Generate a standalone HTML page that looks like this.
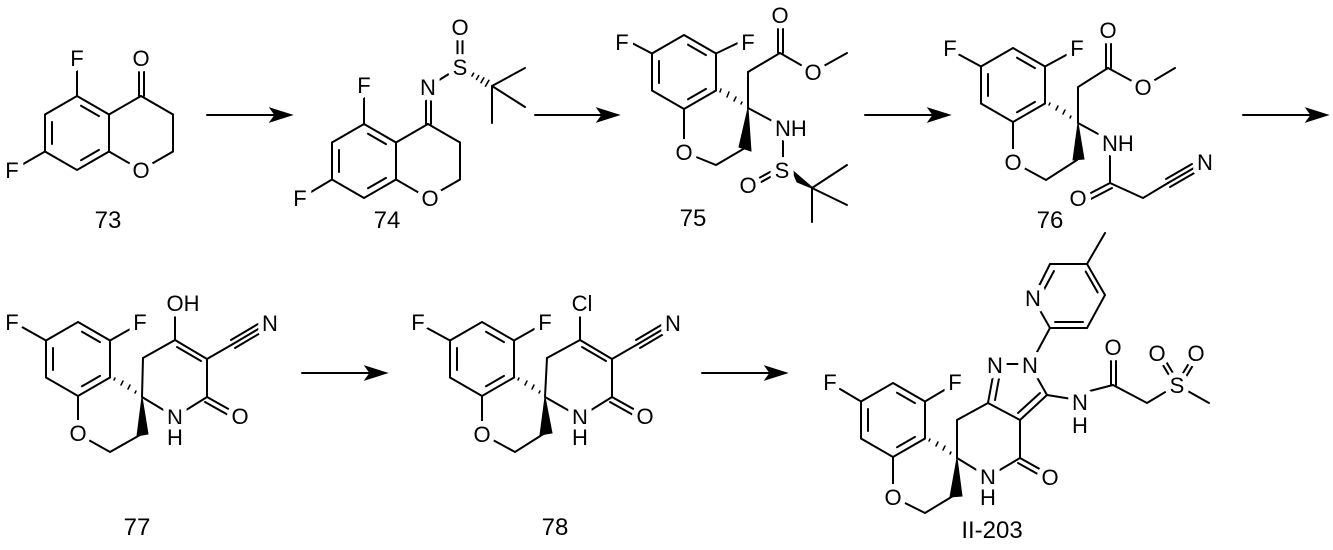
<!DOCTYPE html>
<html><head><meta charset="utf-8"><style>
html,body{margin:0;padding:0;background:#fff;}
svg{display:block;}
line,polyline,polygon.r{stroke:#000;stroke-width:2;fill:none;stroke-linecap:round;}
polygon.w{fill:#000;stroke:#000;stroke-width:1;}
text{font-family:"Liberation Sans",sans-serif;font-size:22px;fill:#000;text-anchor:middle;stroke:#fff;stroke-width:11px;paint-order:stroke;stroke-linejoin:round;}
text.l{font-size:24px;stroke:none;}
text.s{text-anchor:start;}
</style></head><body>
<svg width="1333" height="550" viewBox="0 0 1333 550" xmlns="http://www.w3.org/2000/svg">
<defs>
<g id="ph">
<polygon class="r" points="0,-37 32,-18.5 32,18.5 0,37 -32,18.5 -32,-18.5"/>
<line x1="-25" y1="-11" x2="-25" y2="11"/>
<line x1="4" y1="-27.3" x2="22" y2="-16.9"/>
<line x1="22" y1="16.9" x2="4" y2="27.3"/>
</g>
</defs>

<!-- ===== 73 ===== -->
<use href="#ph" x="77" y="133"/>
<line x1="77" y1="96" x2="77" y2="62"/>
<line x1="45" y1="151.5" x2="18" y2="167"/>
<line x1="109" y1="114.5" x2="141" y2="96"/>
<line x1="139" y1="96" x2="139" y2="64"/><line x1="144" y1="96" x2="144" y2="64"/>
<polyline points="141,96 173,114.5 173,151.5 141,170 109,151.5"/>
<text x="77" y="66">F</text>
<text x="12" y="178">F</text>
<text x="141" y="66">O</text>
<text x="141" y="178">O</text>
<text class="l" x="108" y="228">73</text>

<line x1="207" y1="115" x2="278" y2="115"/>
<polygon class="w" points="292,115 270,108 275,115 270,122"/>

<!-- ===== 74 ===== -->
<use href="#ph" x="364" y="161"/>
<line x1="364" y1="124" x2="364" y2="92"/>
<line x1="332" y1="179.5" x2="306" y2="195"/>
<line x1="396" y1="142.5" x2="428" y2="124"/>
<line x1="426" y1="124" x2="426" y2="92"/><line x1="431" y1="124" x2="431" y2="92"/>
<polyline points="428,124 460,142.5 460,179.5 428,198 396,179.5"/>
<line x1="428" y1="87" x2="460" y2="67"/>
<line x1="457.5" y1="67" x2="457.5" y2="32"/><line x1="462.5" y1="67" x2="462.5" y2="32"/>
<line x1="472" y1="76" x2="473.6" y2="73.2" style="stroke-width:1.6"/>
<line x1="476.5" y1="79.4" x2="478.7" y2="75.6" style="stroke-width:1.6"/>
<line x1="481" y1="82.7" x2="483.8" y2="77.9" style="stroke-width:1.6"/>
<line x1="485.5" y1="86.1" x2="488.9" y2="80.3" style="stroke-width:1.6"/>
<line x1="492" y1="86" x2="525" y2="68"/>
<line x1="492" y1="86" x2="525" y2="107"/>
<line x1="492" y1="86" x2="492" y2="123"/>
<text x="364" y="93">F</text>
<text x="300" y="206">F</text>
<text x="428" y="95">N</text>
<text x="460" y="75">S</text>
<text x="460" y="35">O</text>
<text x="430" y="206">O</text>
<text class="l" x="387" y="228">74</text>

<line x1="535" y1="115" x2="606" y2="115"/>
<polygon class="w" points="619,115 597,108 602,115 597,122"/>

<!-- ===== 75 ===== -->
<use href="#ph" x="684" y="72"/>
<line x1="652" y1="53.5" x2="628" y2="41"/>
<line x1="716" y1="53.5" x2="742" y2="41"/>
<line x1="684" y1="109" x2="684" y2="150"/>
<polyline points="684,152 716,165 745,148"/>
<polygon class="w" points="748,108 739,147 751,151"/>
<line x1="720" y1="92" x2="721" y2="89" style="stroke-width:1.5"/>
<line x1="727" y1="97" x2="729" y2="92" style="stroke-width:1.5"/>
<line x1="734" y1="101" x2="736" y2="97" style="stroke-width:1.5"/>
<line x1="741" y1="104" x2="742" y2="102" style="stroke-width:1.5"/>
<polyline points="748,108 748,72 780,53"/>
<line x1="778" y1="53" x2="778" y2="20"/><line x1="783" y1="53" x2="783" y2="20"/>
<polyline points="780,53 813,72 847,53"/>
<line x1="748" y1="108" x2="778" y2="124"/>
<line x1="783" y1="138" x2="783" y2="162"/>
<line x1="770" y1="172" x2="752" y2="182"/><line x1="772" y1="176" x2="754" y2="186"/>
<polygon class="w" points="792,170 797,182 814,189"/>
<line x1="812" y1="188" x2="847" y2="165"/>
<line x1="812" y1="188" x2="847" y2="205"/>
<line x1="812" y1="188" x2="812" y2="222"/>
<text x="622" y="50">F</text>
<text x="748" y="50">F</text>
<text x="684" y="160">O</text>
<text x="780" y="23">O</text>
<text x="813" y="80">O</text>
<text class="s" x="775" y="136">NH</text>
<text x="782" y="178">S</text>
<text x="748" y="193">O</text>
<text class="l" x="693" y="226">75</text>

<line x1="865" y1="115" x2="937" y2="115"/>
<polygon class="w" points="950,115 928,108 933,115 928,122"/>

<!-- ===== 76 ===== -->
<use href="#ph" x="1013" y="85"/>
<line x1="981" y1="66.5" x2="958" y2="54"/>
<line x1="1045" y1="66.5" x2="1068" y2="54"/>
<line x1="1013" y1="122" x2="1013" y2="160"/>
<polyline points="1013,162 1046,180 1077,160"/>
<polygon class="w" points="1078,123 1073,160 1084,159"/>
<line x1="1049" y1="105" x2="1050" y2="103" style="stroke-width:1.5"/>
<line x1="1056" y1="110" x2="1058" y2="106" style="stroke-width:1.5"/>
<line x1="1063" y1="114" x2="1065" y2="110" style="stroke-width:1.5"/>
<line x1="1070" y1="118" x2="1071" y2="116" style="stroke-width:1.5"/>
<polyline points="1078,123 1078,87 1108,68"/>
<line x1="1106" y1="68" x2="1106" y2="36"/><line x1="1111" y1="68" x2="1111" y2="36"/>
<polyline points="1108,68 1143,87 1175,68"/>
<line x1="1078" y1="123" x2="1100" y2="135"/>
<line x1="1110" y1="155" x2="1110" y2="183"/>
<line x1="1110" y1="183" x2="1085" y2="196"/><line x1="1112" y1="188" x2="1087" y2="201"/>
<polyline points="1110,183 1143,198 1168,183"/>
<line x1="1168" y1="183" x2="1194" y2="168"/>
<line x1="1166" y1="179" x2="1192" y2="164"/>
<line x1="1170" y1="187" x2="1196" y2="172"/>
<text x="950" y="56">F</text>
<text x="1077" y="56">F</text>
<text x="1013" y="170">O</text>
<text x="1108" y="38">O</text>
<text x="1143" y="95">O</text>
<text class="s" x="1102" y="151">NH</text>
<text x="1078" y="206">O</text>
<text x="1205" y="170">N</text>
<text class="l" x="1050" y="228">76</text>

<line x1="1243" y1="115" x2="1315" y2="115"/>
<polygon class="w" points="1328,115 1306,108 1311,115 1306,122"/>

<!-- ===== 77 ===== -->
<use href="#ph" x="78" y="359"/>
<line x1="46" y1="340.5" x2="22" y2="327"/>
<line x1="110" y1="340.5" x2="132" y2="328"/>
<line x1="78" y1="396" x2="78" y2="432"/>
<polyline points="78,434 110,452 140,435"/>
<polygon class="w" points="142,397 137,436 148,434"/>
<line x1="114" y1="380" x2="115" y2="378" style="stroke-width:1.5"/>
<line x1="121" y1="385" x2="123" y2="381" style="stroke-width:1.5"/>
<line x1="128" y1="389" x2="130" y2="385" style="stroke-width:1.5"/>
<line x1="135" y1="393" x2="136" y2="391" style="stroke-width:1.5"/>
<polyline points="142,397 143,358 175,340"/>
<line x1="175" y1="340" x2="175" y2="312"/>
<line x1="175" y1="340" x2="207" y2="359"/>
<line x1="177" y1="347" x2="201" y2="361"/>
<line x1="207" y1="359" x2="233" y2="344"/>
<line x1="233" y1="344" x2="260" y2="328"/>
<line x1="231" y1="340" x2="258" y2="324"/>
<line x1="235" y1="348" x2="262" y2="332"/>
<line x1="207" y1="359" x2="207" y2="397"/>
<line x1="207" y1="397" x2="232" y2="411"/><line x1="205" y1="402" x2="230" y2="416"/>
<polyline points="207,397 175,417 142,397"/>
<text x="12" y="330">F</text>
<text x="140" y="330">F</text>
<text x="78" y="441">O</text>
<text x="183" y="311">OH</text>
<text x="270" y="331">N</text>
<text x="240" y="424">O</text>
<text x="175" y="425">N</text>
<text x="175" y="445">H</text>
<text class="l" x="137" y="535">77</text>

<line x1="302" y1="373" x2="374" y2="373"/>
<polygon class="w" points="387,373 365,366 370,373 365,380"/>

<!-- ===== 78 ===== -->
<use href="#ph" x="482" y="359"/>
<line x1="450" y1="340.5" x2="427" y2="328"/>
<line x1="514" y1="340.5" x2="536" y2="328"/>
<line x1="482" y1="396" x2="482" y2="432"/>
<polyline points="482,434 515,452 545,433"/>
<polygon class="w" points="545,397 540,435 552,433"/>
<line x1="518" y1="380" x2="519" y2="378" style="stroke-width:1.5"/>
<line x1="525" y1="385" x2="527" y2="381" style="stroke-width:1.5"/>
<line x1="532" y1="389" x2="534" y2="385" style="stroke-width:1.5"/>
<line x1="539" y1="393" x2="540" y2="391" style="stroke-width:1.5"/>
<polyline points="545,397 547,358 580,340"/>
<line x1="580" y1="340" x2="580" y2="314"/>
<line x1="580" y1="340" x2="612" y2="359"/>
<line x1="582" y1="347" x2="606" y2="361"/>
<line x1="612" y1="359" x2="638" y2="344"/>
<line x1="638" y1="344" x2="665" y2="328"/>
<line x1="636" y1="340" x2="663" y2="324"/>
<line x1="640" y1="348" x2="667" y2="332"/>
<line x1="612" y1="359" x2="612" y2="397"/>
<line x1="612" y1="397" x2="637" y2="411"/><line x1="610" y1="402" x2="635" y2="416"/>
<polyline points="612,397 580,417 545,397"/>
<text x="418" y="330">F</text>
<text x="545" y="330">F</text>
<text x="482" y="442">O</text>
<text x="582" y="311">Cl</text>
<text x="673" y="331">N</text>
<text x="645" y="424">O</text>
<text x="580" y="425">N</text>
<text x="580" y="445">H</text>
<text class="l" x="555" y="535">78</text>

<line x1="702" y1="373" x2="774" y2="373"/>
<polygon class="w" points="787,373 765,366 770,373 765,380"/>

<!-- ===== II-203 ===== -->
<use href="#ph" x="893" y="420"/>
<line x1="861" y1="401.5" x2="840" y2="389"/>
<line x1="925" y1="401.5" x2="946" y2="389"/>
<line x1="893" y1="457" x2="893" y2="495"/>
<polyline points="893,497 925,513 953,496"/>
<polygon class="w" points="957,458 950,497 962,496"/>
<line x1="929" y1="441" x2="930" y2="439" style="stroke-width:1.5"/>
<line x1="936" y1="446" x2="938" y2="442" style="stroke-width:1.5"/>
<line x1="943" y1="450" x2="945" y2="446" style="stroke-width:1.5"/>
<line x1="950" y1="454" x2="951" y2="452" style="stroke-width:1.5"/>
<polyline points="957,458 957,420 988,403"/>
<line x1="988" y1="403" x2="995" y2="365"/>
<line x1="995" y1="400" x2="1000" y2="373"/>
<line x1="1004" y1="364" x2="1020" y2="364"/>
<line x1="1030" y1="365" x2="1047" y2="395"/>
<line x1="1047" y1="395" x2="1020" y2="420"/>
<line x1="1040" y1="393" x2="1018" y2="413"/>
<line x1="1020" y1="420" x2="988" y2="403"/>
<line x1="1020" y1="420" x2="1020" y2="458"/>
<line x1="1020" y1="458" x2="1045" y2="472"/><line x1="1018" y1="463" x2="1043" y2="477"/>
<polyline points="1020,458 988,477 957,458"/>
<line x1="1047" y1="395" x2="1078" y2="400"/>
<line x1="1082" y1="393" x2="1113" y2="385"/>
<line x1="1111" y1="385" x2="1111" y2="352"/><line x1="1116" y1="385" x2="1116" y2="352"/>
<polyline points="1113,385 1147,403 1177,385"/>
<line x1="1172" y1="380" x2="1158" y2="357"/><line x1="1176" y1="378" x2="1162" y2="355"/>
<line x1="1180" y1="378" x2="1194" y2="355"/><line x1="1184" y1="380" x2="1198" y2="357"/>
<line x1="1177" y1="385" x2="1209" y2="403"/>
<line x1="1030" y1="365" x2="1050" y2="328"/>
<polyline points="1050,328 1033,298 1050,264 1087,264 1105,295 1087,328 1050,328"/>
<line x1="1040" y1="297" x2="1054" y2="271"/>
<line x1="1085.7" y1="271.5" x2="1097.7" y2="292.5"/>
<line x1="1055" y1="322" x2="1083" y2="322"/>
<line x1="1087" y1="264" x2="1105" y2="233"/>
<text x="830" y="390">F</text>
<text x="955" y="390">F</text>
<text x="893" y="505">O</text>
<text x="995" y="373">N</text>
<text x="1030" y="373">N</text>
<text x="1033" y="306">N</text>
<text x="1080" y="410">N</text>
<text x="1080" y="433">H</text>
<text x="1113" y="355">O</text>
<text x="1177" y="393">S</text>
<text x="1157" y="361">O</text>
<text x="1196" y="361">O</text>
<text x="1050" y="485">O</text>
<text x="988" y="485">N</text>
<text x="988" y="505">H</text>
<text class="l" x="992" y="538">II-203</text>
</svg>
</body></html>
